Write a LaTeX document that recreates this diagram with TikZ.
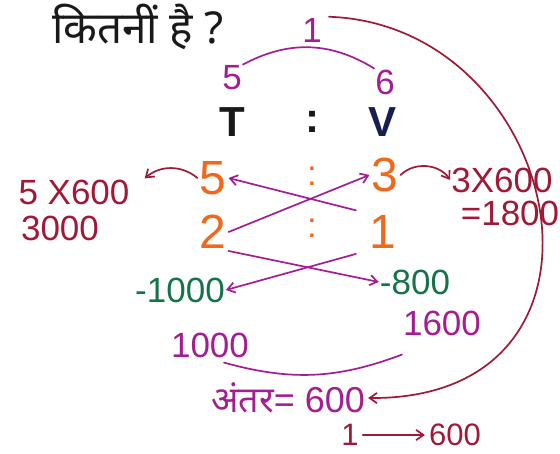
\documentclass[tikz,border=0pt]{standalone}
\usepackage{fontspec}
\setmainfont{Liberation Sans}
\newfontfamily\deva[Script=Devanagari]{Noto Sans}
\usetikzlibrary{arrows.meta}
\definecolor{ink}{RGB}{25,25,25}
\definecolor{navy}{RGB}{25,30,80}
\definecolor{tang}{RGB}{238,105,30}
\definecolor{plum}{RGB}{165,30,145}
\definecolor{wine}{RGB}{160,25,55}
\definecolor{leaf}{RGB}{20,115,75}

\begin{document}
\begin{tikzpicture}[x=1pt,y=-1pt,>={Straight Barb[length=2.6mm,width=3.6mm]},
  hd/.style={font=\fontsize{42}{44}\selectfont,inner sep=2pt},
  og/.style={text=tang,font=\fontsize{48}{50}\selectfont,inner sep=2pt},
  lb/.style={font=\fontsize{35}{37}\selectfont,inner sep=1pt},
  ln/.style={line width=1.7pt,line cap=round},
  cr/.style={ln,plum,->}]
  \useasboundingbox[fill=white] (0,0) rectangle (560,454);
  \node[hd,text=ink,font=\fontsize{44}{46}\selectfont] (q) at (138,27) {\deva कितनीं है ?};
  \node[lb,text=plum] (top) at (312,30) {1};
  \node[lb,text=plum] (p5) at (232,78) {5};
  \node[lb,text=plum] (p6) at (385,82) {6};
  \draw[ln,plum] (p5.north east) to[bend left=30] (p6.north west);
  \node[hd,text=ink] (T) at (232,122) {\textbf{T}};
  \node[hd,text=ink] (c0) at (312,122) {\textbf{:}};
  \node[hd,text=navy] (V) at (383,122) {\textbf{V}};
  \node[og] (t5) at (213,178) {5};
  \node[og] (v3) at (385,175) {3};
  \node[og] (t2) at (213,232) {2};
  \node[og] (v1) at (383,232) {1};
  \node[lb,text=tang] (c1) at (312,176) {:};
  \node[lb,text=tang] (c2) at (312,228) {:};
  \node[lb,text=leaf] (m10) at (180,290) {-1000};
  \node[lb,text=leaf] (m8) at (415,282) {-800};
  \draw[cr] (t2.east) -- (v3.west);
  \draw[cr,shorten <=12pt] (v1.north west) -- (t5.east);
  \draw[cr] (t2.south east) -- (m8.west);
  \draw[cr,shorten <=12pt] (v1.south west) -- (m10.east);
  \node[lb,text=wine] (lhs) at (74,192) {5 X600};
  \node[lb,text=wine] (lsum) at (60,228) {3000};
  \node[lb,text=wine] (rhs) at (502,180) {3X600};
  \node[lb,text=wine] (rsum) at (510,213) {=1800};
  \draw[ln,wine,->] (t5.west) to[bend right=40] ([xshift=14pt]lhs.north east);
  \draw[ln,wine,->] (v3.east) to[bend left=50] (rhs.west);
  \node[lb,text=plum] (a1) at (210,345) {1000};
  \node[lb,text=plum] (a2) at (442,323) {1600};
  \draw[ln,plum] ([xshift=14pt,yshift=-4pt]a1.south) to[bend right=18] ([xshift=-40pt,yshift=-18pt]a2.south);
  \node[lb,text=plum,font=\fontsize{36}{38}\selectfont,inner sep=0pt] (gap) at (288,398) {{\deva अंतर}= 600};
  \draw[ln,wine,->] ([xshift=6pt]top.north east) .. controls (565,25) and (642,400) .. ([xshift=3pt]gap.east);
  \node[lb,text=wine,font=\fontsize{31}{33}\selectfont,inner sep=0pt] (one) at (350,435) {1};
  \node[lb,text=wine,font=\fontsize{31}{33}\selectfont,inner sep=0pt] (six) at (455,435) {600};
  \draw[ln,wine,->] ([xshift=4pt]one.east) -- ([xshift=-4pt]six.west);
\end{tikzpicture}
\end{document}
